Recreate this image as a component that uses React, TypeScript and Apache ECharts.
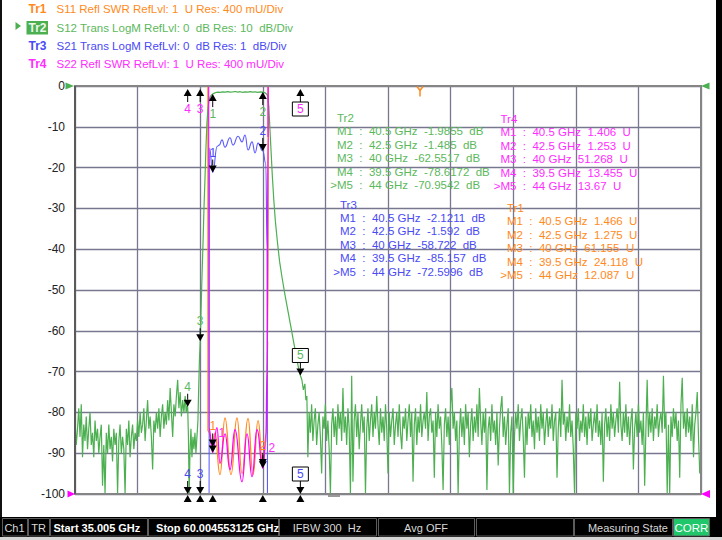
import React, { useEffect, useRef } from 'react';
import * as echarts from 'echarts';

const FONT = '"Liberation Sans", Arial, sans-serif';
const ORANGE = '#ff8a1c';
const GREEN = '#4caf50';
const GREEN_TXT = '#5cb85c';
const BLUE = '#5a5aff';
const BLUE_TXT = '#4a4af5';
const MAGENTA = '#ff00ff';
const MAGENTA_TXT = '#ff2cff';
const GRID = '#77778f';

const GRID_LEFT = 75;
const GRID_TOP = 86;
const GRID_W = 626;
const GRID_H = 408;

// axes (GHz / dB / SWR)
const FREQ_MIN = 35;
const FREQ_MAX = 60;
const FREQ_DIV = 2.5;
const LOGM_MIN = -100;
const LOGM_MAX = 0;
const LOGM_DIV = 10;
const FINE_MIN = -10;
const FINE_MAX = 0;
const SWR_MIN = 1;
const SWR_MAX = 5;

// header / status texts
const traceNames = ['Tr1', 'Tr2', 'Tr3', 'Tr4'];
const traceHeaders = [
  'S11 Refl SWR RefLvl: 1\u00a0\u00a0U Res: 400 mU/Div',
  'S12 Trans LogM RefLvl: 0\u00a0\u00a0dB Res: 10\u00a0\u00a0dB/Div',
  'S21 Trans LogM RefLvl: 0\u00a0\u00a0dB Res: 1\u00a0\u00a0dB/Div',
  'S22 Refl SWR RefLvl: 1\u00a0\u00a0U Res: 400 mU/Div',
];
const START_LABEL = 'Start 35.005 GHz';
const STOP_LABEL = 'Stop 60.004553125 GHz';

// ---- Tr2 : S12 LogM (dB) ----
const NOISE_STEP = 0.05;
const s12LeftStart = 35.0;
const s12LeftNoise = [
  -82, -88, -84, -79, -86, -78, -91, -83, -87, -81,
  -89, -84, -80, -88, -85, -91, -82, -87, -84, -90,
  -86, -83, -98, -88, -100, -85, -90, -83, -89, -86,
  -92, -84, -88, -85, -100, -87, -83, -90, -86, -89,
  -100, -84, -88, -82, -91, -86, -83, -89, -85, -87,
  -82, -86, -80, -85, -83, -79, -87, -82, -77, -84,
  -81, -86, -94, -82, -85, -80, -84, -79, -86, -81,
  -78, -84, -80, -83, -77, -82, -74, -80, -86, -78,
  -81, -76, -72, -79, -75, -81, -77, -80, -76,
];
const s12FilterF = [
  39.44, 39.48, 39.5, 39.53, 39.56, 39.59, 39.63, 39.67, 39.71, 39.75,
  39.79, 39.83, 39.87, 39.91, 39.94, 39.97, 40.0, 40.03, 40.06, 40.09,
  40.12, 40.15, 40.19, 40.23, 40.27, 40.31, 40.35, 40.4, 40.45, 40.5,
  40.55, 40.62, 40.7, 40.8, 40.9, 41.0, 41.1, 41.2, 41.3, 41.4,
  41.5, 41.6, 41.7, 41.8, 41.9, 42.0, 42.1, 42.2, 42.3, 42.4,
  42.5, 42.6, 42.66, 42.7,
  42.74, 42.78, 42.83, 42.88, 42.94, 43.0, 43.08, 43.17, 43.27, 43.38,
  43.5, 43.62, 43.74, 43.86, 43.94, 44.0, 44.06, 44.12, 44.18, 44.22, 44.26,
];
const s12FilterDb = [
  -80, -78.4, -78.6172, -86, -100, -90, -84, -91, -86, -89,
  -85, -90, -86, -82, -74, -67, -62.5517, -56, -49, -43,
  -37, -30, -23, -15, -9, -5.5, -3.6, -2.6, -2.2, -1.9855,
  -1.8, -1.6, -1.5, -1.55, -1.42, -1.5, -1.38, -1.5, -1.45, -1.35,
  -1.5, -1.4, -1.55, -1.42, -1.5, -1.38, -1.52, -1.42, -1.55, -1.45,
  -1.485, -1.7, -2.0, -2.6,
  -5, -10, -16, -22, -28, -33, -38, -43, -47, -51,
  -55, -59, -63, -67, -69.5, -70.9542, -72, -74.5, -73, -77, -76,
];
const s12RightStart = 44.3;
const s12RightNoise = [
  -91, -80, -85, -78, -87, -82, -79, -88, -83, -80,
  -86, -95, -81, -84, -78, -87, -82, -89, -100, -83,
  -79, -86, -81, -88, -78, -84, -80, -87, -74, -85,
  -81, -88, -79, -84, -100, -71, -97, -82, -78, -86,
  -80, -89, -83, -78, -85, -81, -100, -84, -79, -87,
  -82, -78, -86, -80, -84, -76, -83, -88, -79, -85,
  -81, -87, -78, -84, -95, -80, -86, -82, -79, -88,
  -83, -80, -86, -78, -85, -89, -81, -84, -79, -87,
  -82, -78, -86, -80, -97, -83, -79, -88, -81, -85,
  -78, -86, -82, -80, -84, -75, -87, -81, -79, -85,
  -82, -96, -80, -86, -78, -84, -81, -88, -99, -83,
  -79, -86, -81, -88, -78, -74, -84, -80, -87, -82,
  -100, -85, -79, -86, -81, -88, -78, -84, -80, -91,
  -83, -79, -87, -81, -85, -78, -86, -74, -82, -88,
  -80, -85, -79, -99, -84, -81, -87, -78, -85, -82,
  -88, -80, -93, -84, -79, -76, -86, -81, -88, -83,
  -79, -100, -85, -81, -100, -86, -80, -84, -78, -87,
  -82, -79, -86, -96, -81, -88, -80, -84, -78, -86,
  -82, -89, -79, -85, -81, -87, -78, -84, -80, -88,
  -83, -79, -86, -81, -84, -78, -87, -82, -80, -96,
  -84, -79, -86, -72, -83, -80, -87, -81, -85, -78,
  -86, -82, -89, -100, -80, -84, -79, -87, -82, -85,
  -78, -86, -81, -88, -80, -84, -79, -87, -83, -80,
  -85, -78, -86, -82, -88, -80, -97, -83, -79, -86,
  -81, -87, -78, -84, -80, -86, -82, -79, -85, -72.5,
  -83, -87, -80, -85, -78, -86, -81, -88, -82, -79,
  -94, -84, -80, -86, -78, -85, -82, -88, -80, -98,
  -84, -72, -86, -80, -85, -79, -87, -81, -84, -78,
  -86, -82, -80, -85, -71, -84, -80, -100, -83, -100,
  -81, -86, -79, -84, -80, -87, -82, -96, -78, -71.5,
  -84, -80, -86, -79, -85, -81, -87, -78, -91, -83,
  -80, -75, -86, -95,
];

// ---- Tr3 : S21 LogM (dB, 1 dB/div) ----
const s21F = [
  35, 39.5, 40, 40.3, 40.35, 40.37, 40.5, 40.68, 40.76, 40.87,
  40.99, 41.19, 41.31, 41.51, 41.67, 41.79, 41.91, 42.07, 42.19, 42.31,
  42.5, 42.62, 42.67, 42.7, 42.73, 44, 50, 60,
];
const s21Db = [
  -80, -85.157, -58.722, -40, -12, -1.52, -2.1211, -1.48, -1.45, -1.32,
  -1.5, -1.27, -1.45, -1.23, -1.37, -1.2, -1.57, -1.37, -1.64, -1.4,
  -1.592, -1.9, -4, -15, -40, -72.5996, -80, -85,
];

// ---- Tr1 : S11 SWR ----
const s11F = [
  35, 39.5, 40, 40.28, 40.31, 40.5, 40.59, 40.79, 40.99, 41.23,
  41.47, 41.67, 41.91, 42.11, 42.31, 42.5, 42.64, 42.7, 42.74, 42.77,
  44, 50, 60,
];
const s11Swr = [
  40, 24.118, 61.155, 40, 1.62, 1.466, 1.6, 1.19, 1.745, 1.19,
  1.745, 1.2, 1.74, 1.19, 1.72, 1.275, 1.6, 2.5, 8, 30,
  12.087, 20, 30,
];

// ---- Tr4 : S22 SWR ----
const s22F = [
  35, 39.5, 40, 40.31, 40.345, 40.5, 40.67, 40.79, 40.99, 41.19,
  41.39, 41.67, 41.87, 42.07, 42.27, 42.5, 42.62, 42.67, 42.71, 42.73,
  44, 50, 60,
];
const s22Swr = [
  30, 13.455, 51.268, 30, 1.65, 1.406, 1.65, 1.3, 1.59, 1.24,
  1.63, 1.12, 1.59, 1.17, 1.63, 1.253, 1.5, 2.2, 4.5, 30,
  13.67, 20, 25,
];

// ---- markers ----
const markerNames = ['M1', 'M2', 'M3', 'M4', 'M5'];
const markerLabels = ['1', '2', '3', '4', '5'];
const markerFreqs = [40.5, 42.5, 40, 39.5, 44];
const tr1Markers = [1.466, 1.275, 61.155, 24.118, 12.087];
const tr2Markers = [-1.9855, -1.485, -62.5517, -78.6172, -70.9542];
const tr3Markers = [-2.1211, -1.592, -58.722, -85.157, -72.5996];
const tr4Markers = [1.406, 1.253, 51.268, 13.455, 13.67];
const ACTIVE_MARKER = 4;

function pairs(f: number[], v: number[]) {
  return f.map((x, i) => [x, v[i]]);
}

function buildS12() {
  const out: number[][] = [];
  s12LeftNoise.forEach((v, i) => out.push([+(s12LeftStart + i * NOISE_STEP).toFixed(3), v]));
  s12FilterF.forEach((f, i) => out.push([f, s12FilterDb[i]]));
  s12RightNoise.forEach((v, i) => out.push([+(s12RightStart + i * NOISE_STEP).toFixed(3), v]));
  return out;
}

function txt(x: number, y: number, text: string, fill: string, size = 11, weight = 'normal', align = 'left', z = 50) {
  return {
    type: 'text', x, y, z, silent: true,
    style: { text, fill, fontSize: size, fontFamily: FONT, fontWeight: weight, align, verticalAlign: 'middle', textAlign: align, textVerticalAlign: 'middle' },
  };
}
function rect(x: number, y: number, w: number, h: number, style: any, z = 40) {
  return { type: 'rect', z, silent: true, shape: { x, y, width: w, height: h }, style };
}
function poly(points: number[][], fill: string, z = 60) {
  return { type: 'polygon', z, silent: true, shape: { points }, style: { fill } };
}
function seg(x1: number, y1: number, x2: number, y2: number, stroke: string, lineWidth = 1, z = 60) {
  return { type: 'line', z, silent: true, shape: { x1, y1, x2, y2 }, style: { stroke, lineWidth } };
}

const placedLabels: number[][] = [];
function freeLabelX(x: number, y: number) {
  let lx = x;
  for (let guard = 0; guard < 6; guard++) {
    const hit = placedLabels.some(([px, py]) => Math.abs(px - lx) < 9 && Math.abs(py - y) < 12);
    if (!hit) break;
    lx += 9;
  }
  placedLabels.push([lx, y]);
  return lx;
}

function markerGlyph(x: number, tip: number, up: boolean, label: string, color: string, boxed: boolean) {
  const s = up ? 1 : -1;
  const els: any[] = [];
  els.push(poly([[x, tip], [x - 4, tip + s * 7], [x + 4, tip + s * 7]], '#000', 70));
  els.push(seg(x, tip + s * 7, x, tip + s * 13, '#000', 1, 70));
  const cy = tip + s * 20;
  if (boxed) {
    els.push(rect(x - 8, cy - 7, 16, 14, { fill: '#fff', stroke: '#000', lineWidth: 1 }, 71));
    els.push(txt(x, cy, label, color, 12, 'normal', 'center', 72));
  } else {
    els.push(txt(freeLabelX(x, cy), cy, label, color, 12, 'normal', 'center', 72));
  }
  return els;
}

function staticGraphics() {
  const els: any[] = [];
  // page frame
  els.push(rect(0, 0, 2, 537, { fill: '#111' }, 1));
  els.push(rect(716, 0, 6, 537, { fill: '#000' }, 1));
  // header
  const hColors = [ORANGE, GREEN_TXT, BLUE_TXT, MAGENTA_TXT];
  const hY = [9, 27.5, 46, 64];
  traceNames.forEach((n, i) => {
    if (i === 1) {
      els.push(rect(26.5, 21, 21.5, 13.5, { fill: GREEN }, 45));
      els.push(poly([[15.5, 22], [15.5, 30], [21, 26]], GREEN, 45));
      els.push(txt(28.5, hY[i], n, '#eaf7ea', 12, 'bold'));
    } else {
      els.push(txt(28.5, hY[i], n, hColors[i], 12, 'bold'));
    }
    els.push(txt(56.5, hY[i], traceHeaders[i], hColors[i], 11.5));
  });
  // marker tables
  const tables = [
    { title: 'Tr2', color: GREEN_TXT, x: 337, y: 118, values: tr2Markers, unit: 'dB' },
    { title: 'Tr3', color: BLUE_TXT, x: 340, y: 204.5, values: tr3Markers, unit: 'dB' },
    { title: 'Tr4', color: MAGENTA_TXT, x: 500.5, y: 119, values: tr4Markers, unit: 'U' },
    { title: 'Tr1', color: ORANGE, x: 507, y: 208, values: tr1Markers, unit: 'U' },
  ];
  const sp = '\u00a0\u00a0';
  tables.forEach((t) => {
    els.push(txt(t.x, t.y, t.title, t.color, 11.5));
    t.values.forEach((v, k) => {
      const y = t.y + 13.45 * (k + 1);
      if (k === ACTIVE_MARKER) els.push(txt(t.x, y, '>', t.color, 11.5, 'normal', 'right'));
      els.push(txt(t.x, y, `${markerNames[k]}${sp}:${sp}${markerFreqs[k]} GHz${sp}${v}${sp}${t.unit}`, t.color, 11.5));
    });
  });
  // plot frame
  els.push(rect(GRID_LEFT, GRID_TOP, GRID_W, GRID_H, { fill: 'none', stroke: '#858585', lineWidth: 2 }, 30));
  els.push(seg(GRID_LEFT, GRID_TOP, GRID_LEFT, GRID_TOP + GRID_H, '#5a5a5a', 2, 31));
  // reference triangles
  els.push(poly([[65.5, 82.5], [65.5, 89.5], [74, 86]], GREEN, 55));
  els.push(poly([[67.5, 490.5], [67.5, 497.5], [75, 494]], MAGENTA, 55));
  els.push(poly([[709.5, 82.5], [709.5, 89.5], [701, 86]], GREEN, 55));
  els.push(poly([[710, 490], [710, 498], [701, 494]], MAGENTA, 55));
  // Tr1 small indicator and scroll mark
  els.push({ type: 'polyline', z: 55, silent: true, shape: { points: [[417, 86.5], [420, 90.5], [423, 86.5]] }, style: { stroke: ORANGE, lineWidth: 1.5, fill: 'none' } });
  els.push(seg(420, 90.5, 420, 96.5, ORANGE, 1.5, 55));
  els.push(seg(328, 496, 340, 496, '#9a9a9a', 2, 55));
  // status bar
  els.push(rect(0, 517, 716, 20, { fill: '#000' }, 40));
  els.push(rect(0, 537, 722, 3, { fill: '#d6d6d6' }, 40));
  const boxes = [
    { x: 2, w: 25, t: 'Ch1', tx: 14.5, al: 'center', b: 'normal' },
    { x: 28, w: 21, t: 'TR', tx: 38.5, al: 'center', b: 'normal' },
    { x: 50, w: 97, t: START_LABEL, tx: 53.5, al: 'left', b: 'bold' },
    { x: 148, w: 130, t: STOP_LABEL, tx: 217.5, al: 'center', b: 'bold' },
    { x: 279, w: 97, t: 'IFBW 300\u00a0\u00a0Hz', tx: 327, al: 'center', b: 'normal' },
    { x: 378, w: 96, t: 'Avg OFF', tx: 426, al: 'center', b: 'normal' },
    { x: 476, w: 97, t: '', tx: 524, al: 'center', b: 'normal' },
    { x: 574, w: 98, t: 'Measuring State', tx: 668, al: 'right', b: 'normal' },
  ];
  boxes.forEach((b) => {
    els.push(rect(b.x + 0.5, 518.5, b.w, 17.5, { fill: '#000', stroke: '#5c5c5c', lineWidth: 1 }, 41));
    if (b.t) els.push(txt(b.tx, 527.7, b.t, b.b === 'bold' ? '#ffffff' : '#d8d8d8', 11, b.b, b.al, 42));
  });
  els.push(rect(673.5, 518.5, 36, 17.5, { fill: '#1fc66a', stroke: '#5c5c5c', lineWidth: 1 }, 41));
  els.push(txt(691.5, 527.7, 'CORR', '#ffffff', 11.5, 'normal', 'center', 42));
  return els;
}

export default function App() {
  const ref = useRef<HTMLDivElement>(null);
  useEffect(() => {
    const chart = echarts.init(ref.current!, null, { renderer: 'svg' });
    const lineBase = { type: 'line', showSymbol: false, symbol: 'none', clip: true, silent: true };
    chart.setOption({
      animation: false,
      backgroundColor: '#ffffff',
      grid: { left: GRID_LEFT, top: GRID_TOP, width: GRID_W, height: GRID_H, show: false },
      xAxis: {
        type: 'value', min: FREQ_MIN, max: FREQ_MAX, interval: FREQ_DIV,
        axisLabel: { show: false }, axisTick: { show: false }, axisLine: { show: false },
        splitLine: { show: true, lineStyle: { color: GRID, width: 1.3 } },
      },
      yAxis: [
        {
          type: 'value', min: LOGM_MIN, max: LOGM_MAX, interval: LOGM_DIV, position: 'left',
          axisLabel: { color: '#222', fontSize: 12, fontFamily: FONT, margin: 10 },
          axisLine: { show: false }, axisTick: { show: false },
          splitLine: { show: true, lineStyle: { color: GRID, width: 1.3 } },
        },
        { type: 'value', min: FINE_MIN, max: FINE_MAX, show: false, splitLine: { show: false } },
        { type: 'value', min: SWR_MIN, max: SWR_MAX, show: false, splitLine: { show: false } },
      ],
      series: [
        { ...lineBase, name: 'Tr1', yAxisIndex: 2, data: pairs(s11F, s11Swr), smooth: 0.5, smoothMonotone: 'x', lineStyle: { color: ORANGE, width: 1.3 }, z: 2 },
        { ...lineBase, name: 'Tr2', yAxisIndex: 0, data: buildS12(), lineStyle: { color: GREEN, width: 1.2 }, z: 3 },
        { ...lineBase, name: 'Tr3', yAxisIndex: 1, data: pairs(s21F, s21Db), smooth: 0.5, smoothMonotone: 'x', lineStyle: { color: BLUE, width: 1.1 }, z: 4 },
        { ...lineBase, name: 'Tr4', yAxisIndex: 2, data: pairs(s22F, s22Swr), smooth: 0.5, smoothMonotone: 'x', lineStyle: { color: MAGENTA, width: 1.3 }, z: 5 },
      ],
    });

    placedLabels.length = 0;
    const top = chart.convertToPixel({ seriesIndex: 1 }, [FREQ_MIN, LOGM_MAX])[1];
    const bottom = chart.convertToPixel({ seriesIndex: 1 }, [FREQ_MIN, LOGM_MIN])[1];
    const traces = [
      { series: 0, values: tr1Markers, color: ORANGE },
      { series: 1, values: tr2Markers, color: GREEN_TXT },
      { series: 2, values: tr3Markers, color: BLUE_TXT },
      { series: 3, values: tr4Markers, color: MAGENTA_TXT },
    ];
    const markerEls: any[] = [];
    const offscale = new Map<string, any>();
    traces.forEach((tr) => {
      tr.values.forEach((v, k) => {
        const [px, py] = chart.convertToPixel({ seriesIndex: tr.series }, [markerFreqs[k], v]);
        const boxed = k === ACTIVE_MARKER;
        if (py < top) {
          offscale.set(`${k}:top`, { px, tip: top + 3, up: true, k, color: tr.color, boxed });
        } else if (py > bottom) {
          offscale.set(`${k}:bottom`, { px, tip: bottom, up: false, k, color: tr.color, boxed });
        } else {
          markerEls.push(...markerGlyph(px, py, py - top < 22, markerLabels[k], tr.color, boxed));
        }
      });
    });
    offscale.forEach((m) => markerEls.push(...markerGlyph(m.px, m.tip, m.up, markerLabels[m.k], m.color, m.boxed)));
    markerFreqs.forEach((f) => {
      const px = chart.convertToPixel({ seriesIndex: 1 }, [f, LOGM_MIN])[0];
      markerEls.push(poly([[px, bottom + 1], [px - 4, bottom + 8], [px + 4, bottom + 8]], '#000', 70));
    });

    chart.setOption({ graphic: { elements: [...staticGraphics(), ...markerEls] } });
    return () => chart.dispose();
  }, []);
  return <div ref={ref} style={{ position: 'fixed', left: 0, top: 0, width: 722, height: 540, background: '#fff' }} />;
}
